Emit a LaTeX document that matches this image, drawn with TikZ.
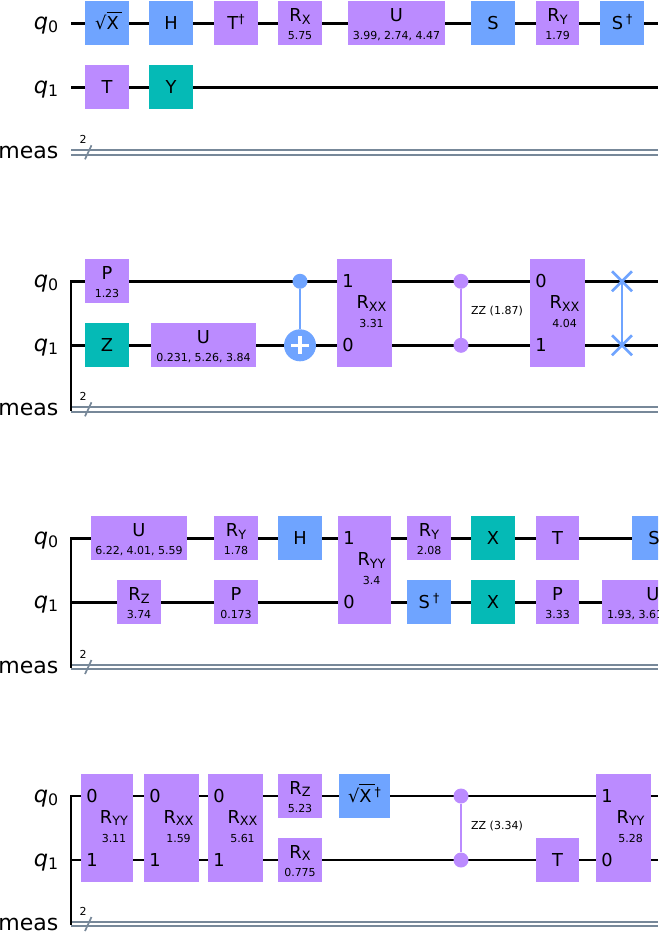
\documentclass[tikz,border=0pt]{standalone}
\usepackage{fontspec}
\setmainfont{DejaVu Sans}
\definecolor{gpurple}{HTML}{BB8BFF}
\definecolor{gblue}{HTML}{6FA4FF}
\definecolor{gteal}{HTML}{05BAB6}
\definecolor{cgrey}{HTML}{778899}
\newcommand\fsL{\fontsize{17.8}{17.8}\selectfont}
\newcommand\fsP{\fontsize{11}{11}\selectfont}
\newcommand\fsQ{\fontsize{22.5}{22.5}\selectfont}
\newcommand\Rs[1]{R{\fontsize{12.8}{12.8}\selectfont\raisebox{-2.4pt}{#1}}}
\newcommand\dg{\raisebox{6pt}{\fontsize{12.5}{12.5}\selectfont †}}
\newcommand\sqX{√\rlap{\raisebox{17.3pt}{\rule{15.5pt}{0.9pt}}}X}
\newcommand\qname[1]{\textit{q}{\fontsize{15.8}{15.8}\selectfont\raisebox{-3.2pt}{#1}}}
\tikzset{
  x=1pt,y=-1pt,
  gbox/.style={inner sep=0,outer sep=0,draw=none},
  glab/.style={inner sep=0,font=\fsL,text height=13pt,text depth=0pt,anchor=center},
  gpar/.style={inner sep=0,font=\fsP,text height=8pt,text depth=0pt,anchor=center},
  qlab/.style={inner sep=0,font=\fsQ,anchor=base east},
  wire/.style={draw=black,line width=2.6pt},
  cwire/.style={draw=cgrey,line width=2pt},
  slashmark/.style={draw=cgrey,line width=1.7pt},
  ctrl/.style={circle,inner sep=0,minimum size=15pt,fill=#1},
  conn/.style={draw=#1,line width=2.6pt},
  swapx/.style={draw=gblue,line width=2.6pt},
}
% name, x1, x2, wire y, colour, label
\newcommand\qgate[6]{%
  \pgfmathsetmacro\gmx{(#2+#3)/2}\pgfmathsetmacro\gw{#3-#2}%
  \node[gbox,fill=#5,minimum width=\gw pt,minimum height=44pt] (#1) at (\gmx,#4) {};
  \node[glab] (#1-l) at (\gmx,#4) {#6};
}
% name, x1, x2, wire y, colour, label, parameter
\newcommand\qgatep[7]{%
  \pgfmathsetmacro\gmx{(#2+#3)/2}\pgfmathsetmacro\gw{#3-#2}%
  \node[gbox,fill=#5,minimum width=\gw pt,minimum height=44pt] (#1) at (\gmx,#4) {};
  \node[glab] (#1-l) at (\gmx,#4-8) {#6};
  \node[gpar] (#1-p) at (\gmx,#4+12) {#7};
}
% name, x1, x2, y q0, top digit, bottom digit, label, parameter
\newcommand\qspan[8]{%
  \pgfmathsetmacro\gmx{(#2+#3)/2}\pgfmathsetmacro\gw{#3-#2}%
  \node[gbox,fill=gpurple,minimum width=\gw pt,minimum height=108pt] (#1) at (\gmx,#4+32) {};
  \node[glab] (#1-t) at (#2+11,#4) {#5};
  \node[glab] (#1-b) at (#2+11,#4+64) {#6};
  \node[glab] (#1-l) at (\gmx+7,#4+21) {#7};
  \node[gpar] (#1-p) at (\gmx+7,#4+42) {#8};
}
% row id, y q0, y q1, y meas
\newcommand\qrow[4]{%
  \coordinate (#1a0) at (71,#2); \coordinate (#1a1) at (658,#2);
  \coordinate (#1b0) at (71,#3); \coordinate (#1b1) at (658,#3);
  \coordinate (#1c0) at (71,#4); \coordinate (#1c1) at (658,#4);
  \coordinate (#1u0) at (71,#4-2.3); \coordinate (#1u1) at (658,#4-2.3);
  \coordinate (#1d0) at (71,#4+2.3); \coordinate (#1d1) at (658,#4+2.3);
  \coordinate (#1s0) at (85,#4+7); \coordinate (#1s1) at (91.5,#4-7);
  \draw[wire] (#1a0) -- (#1a1);
  \draw[wire] (#1b0) -- (#1b1);
  \draw[cwire] (#1u0) -- (#1u1);
  \draw[cwire] (#1d0) -- (#1d1);
  \draw[slashmark] (#1s0) -- (#1s1);
  \node[inner sep=0,font=\fsP,anchor=base] (#1n) at (83,#4-9) {2};
  \node[qlab] (#1q0) at (58.5,#2+6) {\qname{0}};
  \node[qlab] (#1q1) at (58.5,#3+6) {\qname{1}};
  \node[qlab,font=\fontsize{22}{22}\selectfont] (#1m) at (58.5,#4+6) {meas};
}
\begin{document}
\begin{tikzpicture}
\useasboundingbox (0,0) rectangle (658,933);
\clip (0,0) rectangle (658,933);
% ---- row 1
\qrow{A}{23.3}{87.3}{152.3}
\qgate{a1}{85}{129}{23.3}{gblue}{\sqX}
\qgate{a2}{149}{193}{23.3}{gblue}{H}
\qgate{a3}{214}{258}{23.3}{gpurple}{T\dg}
\qgatep{a4}{278}{322}{23.3}{gpurple}{\Rs{X}}{5.75}
\qgatep{a5}{348}{445}{23.3}{gpurple}{U}{3.99, 2.74, 4.47}
\qgate{a6}{471}{515}{23.3}{gblue}{S}
\qgatep{a7}{536}{579}{23.3}{gpurple}{\Rs{Y}}{1.79}
\qgate{a8}{600}{644}{23.3}{gblue}{S\,\dg}
\qgate{a9}{85}{129}{87.3}{gpurple}{T}
\qgate{a10}{149}{193}{87.3}{gteal}{Y}
% ---- row 2
\qrow{B}{281.3}{345.3}{409.3}
\draw[wire,line cap=rect] (Ba0) -- (Bc0);
\qgatep{b1}{85}{129}{281.3}{gpurple}{P}{1.23}
\qgate{b2}{85}{129}{345.3}{gteal}{Z}
\qgatep{b3}{151}{256}{345.3}{gpurple}{U}{0.231, 5.26, 3.84}
\node[ctrl=gblue] (b4c) at (300,281.3) {};
\node[circle,inner sep=0,minimum size=32pt,fill=gblue] (b4t) at (300,345.3) {};
\draw[conn=gblue] (b4c) -- (b4t);
\coordinate (b4w) at (291,345.3); \coordinate (b4e) at (309,345.3);
\coordinate (b4n) at (300,336.3); \coordinate (b4s) at (300,354.3);
\draw[draw=white,line width=3.2pt] (b4w) -- (b4e);
\draw[draw=white,line width=3.2pt] (b4n) -- (b4s);
\qspan{b5}{337}{392}{281.3}{1}{0}{\Rs{XX}}{3.31}
\node[ctrl=gpurple] (b6a) at (461,281.3) {};
\node[ctrl=gpurple] (b6b) at (461,345.3) {};
\draw[conn=gpurple] (b6a) -- (b6b);
\node[gpar] (b6l) at (497,310.3) {ZZ (1.87)};
\qspan{b7}{530}{585}{281.3}{0}{1}{\Rs{XX}}{4.04}
\coordinate (b8a) at (622,281.3); \coordinate (b8b) at (622,345.3);
\draw[swapx] (b8a) -- (b8b);
\foreach \nm/\yy in {c/281.3,d/345.3}{
  \coordinate (b8\nm1) at (612,\yy-10); \coordinate (b8\nm2) at (632,\yy+10);
  \coordinate (b8\nm3) at (612,\yy+10); \coordinate (b8\nm4) at (632,\yy-10);
  \draw[swapx] (b8\nm1) -- (b8\nm2);
  \draw[swapx] (b8\nm3) -- (b8\nm4);
}
% ---- row 3
\qrow{C}{538.3}{602.3}{667}
\draw[wire,line cap=rect] (Ca0) -- (Cc0);
\qgatep{c1}{91}{187}{538.3}{gpurple}{U}{6.22, 4.01, 5.59}
\qgatep{c2}{117}{161}{602.3}{gpurple}{\Rs{Z}}{3.74}
\qgatep{c3}{214}{258}{538.3}{gpurple}{\Rs{Y}}{1.78}
\qgatep{c4}{214}{258}{602.3}{gpurple}{P}{0.173}
\qgate{c5}{278}{322}{538.3}{gblue}{H}
\qspan{c6}{338}{391}{538.3}{1}{0}{\Rs{YY}}{3.4}
\qgatep{c7}{407}{451}{538.3}{gpurple}{\Rs{Y}}{2.08}
\qgate{c8}{407}{451}{602.3}{gblue}{S\,\dg}
\qgate{c9}{471}{515}{538.3}{gteal}{X}
\qgate{c10}{471}{515}{602.3}{gteal}{X}
\qgate{c11}{536}{579}{538.3}{gpurple}{T}
\qgatep{c12}{536}{579}{602.3}{gpurple}{P}{3.33}
\qgate{c13}{632}{676}{538.3}{gblue}{S}
\qgate{c14}{602}{704}{602.3}{gpurple}{}
\node[glab] (c14l) at (653,594.3) {U};
\node[gpar,anchor=west] (c14p) at (607,614.3) {1.93, 3.61};
% ---- row 4
\qrow{D}{796}{860}{924}
\draw[wire,line cap=rect] (Da0) -- (Dc0);
\qspan{d1}{81}{133}{796}{0}{1}{\Rs{YY}}{3.11}
\qspan{d2}{144}{199}{796}{0}{1}{\Rs{XX}}{1.59}
\qspan{d3}{208}{263}{796}{0}{1}{\Rs{XX}}{5.61}
\qgatep{d4}{278}{322}{796}{gpurple}{\Rs{Z}}{5.23}
\qgatep{d5}{278}{322}{860}{gpurple}{\Rs{X}}{0.775}
\qgate{d6}{339}{390}{796}{gblue}{\sqX\,\dg}
\node[ctrl=gpurple] (d7a) at (461,796) {};
\node[ctrl=gpurple] (d7b) at (461,860) {};
\draw[conn=gpurple] (d7a) -- (d7b);
\node[gpar] (d7l) at (497,825) {ZZ (3.34)};
\qgate{d8}{536}{579}{860}{gpurple}{T}
\qspan{d9}{596}{651}{796}{1}{0}{\Rs{YY}}{5.28}
\end{tikzpicture}
\end{document}
